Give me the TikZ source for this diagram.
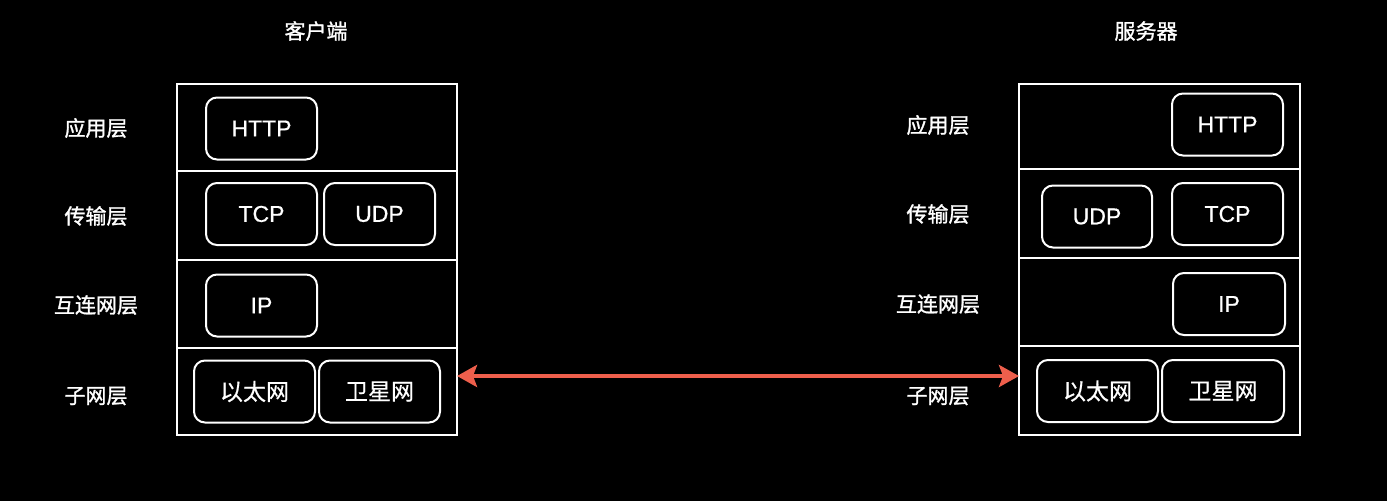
\documentclass[tikz,border=0pt]{standalone}
\usepackage{fontspec}
\setmainfont{Liberation Sans}
\newfontfamily\protofont[FakeBold=0.6]{Liberation Sans}
\newfontfamily\cjk[FakeBold=0.5]{Noto Sans CJK SC}
\newfontfamily\cjklabel[FakeBold=1.3]{Noto Sans CJK SC}
\usetikzlibrary{arrows.meta}
\definecolor{linkred}{HTML}{EE5F4C}
\begin{document}
\begin{tikzpicture}[x=1pt,y=-1pt,line width=2pt,
  proto/.style={draw=white,rounded corners=11pt,minimum height=62pt,inner sep=0pt,text=white,font=\protofont\fontsize{23}{27}\selectfont},
  layer/.style={text=white,font=\cjklabel\fontsize{21}{25}\selectfont}]
 \fill[black] (0,0) rectangle (1387,501);
 % client stack
 \node[layer] (ct) at (316,31) {客户端};
 \draw[white] (177,84) rectangle (457,435);
 \foreach \y in {171,260,348}{\draw[white] (177,\y) -- (457,\y);}
 \foreach \n/\y/\t in {ca/128/应用层,cb/216/传输层,cc/305/互连网层,cd/396/子网层}{\node[layer] (\n) at (96,\y) {\t};}
 \node[proto,minimum width=111pt] (chttp) at (261.5,128.5) {HTTP};
 \node[proto,minimum width=111pt] (ctcp) at (261.5,214) {TCP};
 \node[proto,minimum width=111pt] (cudp) at (379.5,214) {UDP};
 \node[proto,minimum width=111pt] (cip) at (261.5,305.5) {IP};
 \node[proto,minimum width=121pt] (ceth) at (254.5,391.5) {\cjk 以太网};
 \node[proto,minimum width=121pt] (csat) at (379.5,391.5) {\cjk 卫星网};
 % server stack
 \node[layer] (st) at (1146,31) {服务器};
 \draw[white] (1019,84) rectangle (1300,435);
 \foreach \y in {169,258,346}{\draw[white] (1019,\y) -- (1300,\y);}
 \foreach \n/\y/\t in {sa/125/应用层,sb/214/传输层,sc/304/互连网层,sd/396/子网层}{\node[layer] (\n) at (938,\y) {\t};}
 \node[proto,minimum width=111pt] (shttp) at (1227.5,124.5) {HTTP};
 \node[proto,minimum width=110pt] (sudp) at (1097,216.5) {UDP};
 \node[proto,minimum width=111pt] (stcp) at (1227.5,214) {TCP};
 \node[proto,minimum width=112pt] (sip) at (1229,304) {IP};
 \node[proto,minimum width=121pt] (seth) at (1097.5,391) {\cjk 以太网};
 \node[proto,minimum width=122pt] (ssat) at (1223,391) {\cjk 卫星网};
 % link
 \coordinate (cl) at (457,376); \coordinate (sr) at (1019,376);
 \draw[linkred,line width=4pt,{Stealth[length=20pt,width=22pt,inset=4pt]}-{Stealth[length=20pt,width=22pt,inset=4pt]}] (cl) -- (sr);
\end{tikzpicture}
\end{document}
